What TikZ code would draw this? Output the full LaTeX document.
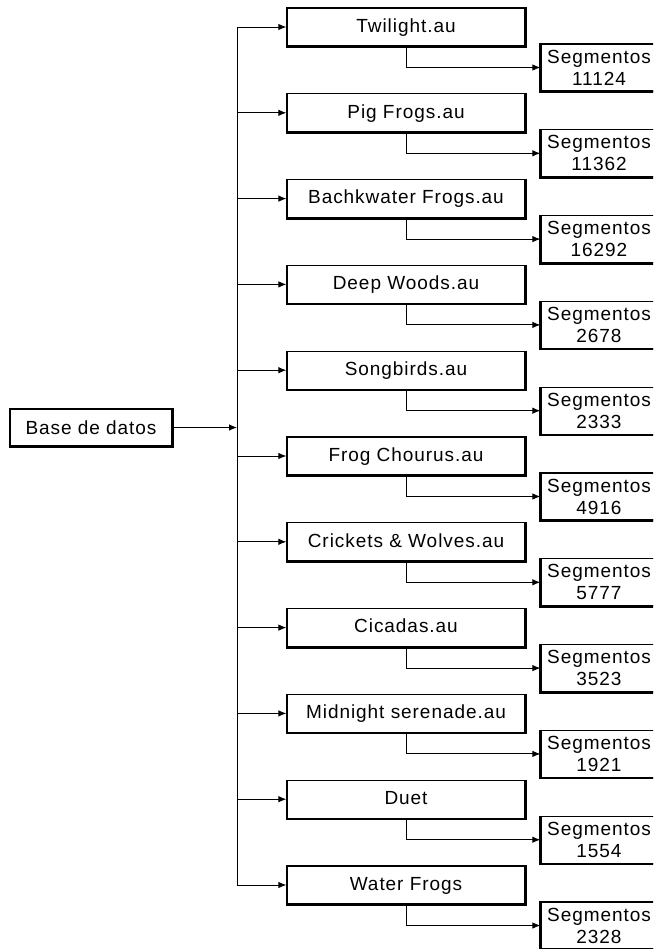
\documentclass[tikz,border=0pt]{standalone}
\usepackage{fontspec}
\setmainfont{Liberation Sans}[LetterSpace=5]
\usetikzlibrary{arrows.meta}
\tikzset{
  thin line/.style={line width=0.9pt},
  arr/.style={thin line,-{Latex[length=8pt,width=6.5pt]}},
  filebox/.style={draw,line width=1.3pt,minimum width=238pt,minimum height=38pt,inner sep=0pt,
    font=\fontsize{19}{21}\selectfont},
  segbox/.style={draw,line width=1.3pt,minimum width=116pt,minimum height=47pt,inner sep=0pt,
    align=center,font=\fontsize{19}{22}\selectfont},
  basebox/.style={draw,line width=1.3pt,minimum width=162pt,minimum height=37pt,inner sep=0pt,
    font=\fontsize{19}{21}\selectfont},
  shade edge/.style={line width=2.6pt}
}
\begin{document}
\begin{tikzpicture}[x=1pt,y=-1pt]
\useasboundingbox (0,0) rectangle (653,949);
\clip (0,0) rectangle (653,949);
\coordinate (bt) at (237,27.5);
\coordinate (bb) at (237,885.5);
\draw[thin line] (bt) -- (bb);
\node[basebox] (base) at (91,427.5) {Base de datos};
\draw[shade edge] (base.north east) -- (base.south east) -- (base.south west);
\draw[arr] (base.east) -- (base.east -| bt);
\foreach \n/\num [count=\i from 0] in {Twilight.au/11124,Pig Frogs.au/11362,Bachkwater Frogs.au/16292,Deep Woods.au/2678,Songbirds.au/2333,Frog Chourus.au/4916,Crickets \& Wolves.au/5777,Cicadas.au/3523,Midnight serenade.au/1921,Duet/1554,Water Frogs/2328}{
  \node[filebox,text depth=3pt] (f\i) at (406,{27+85.8*\i}) {\n};
  \draw[shade edge] (f\i.north east) -- (f\i.south east) -- (f\i.south west);
  \node[segbox] (s\i) at (599,{67.5+85.8*\i}) {Segmentos\\\num};
  \draw[shade edge] (s\i.north west) -- (s\i.south west) -- (s\i.south east);
  \draw[arr] (f\i.west -| bt) -- (f\i.west);
  \draw[arr] (f\i.south) |- (s\i.west);
}
\end{tikzpicture}
\end{document}
